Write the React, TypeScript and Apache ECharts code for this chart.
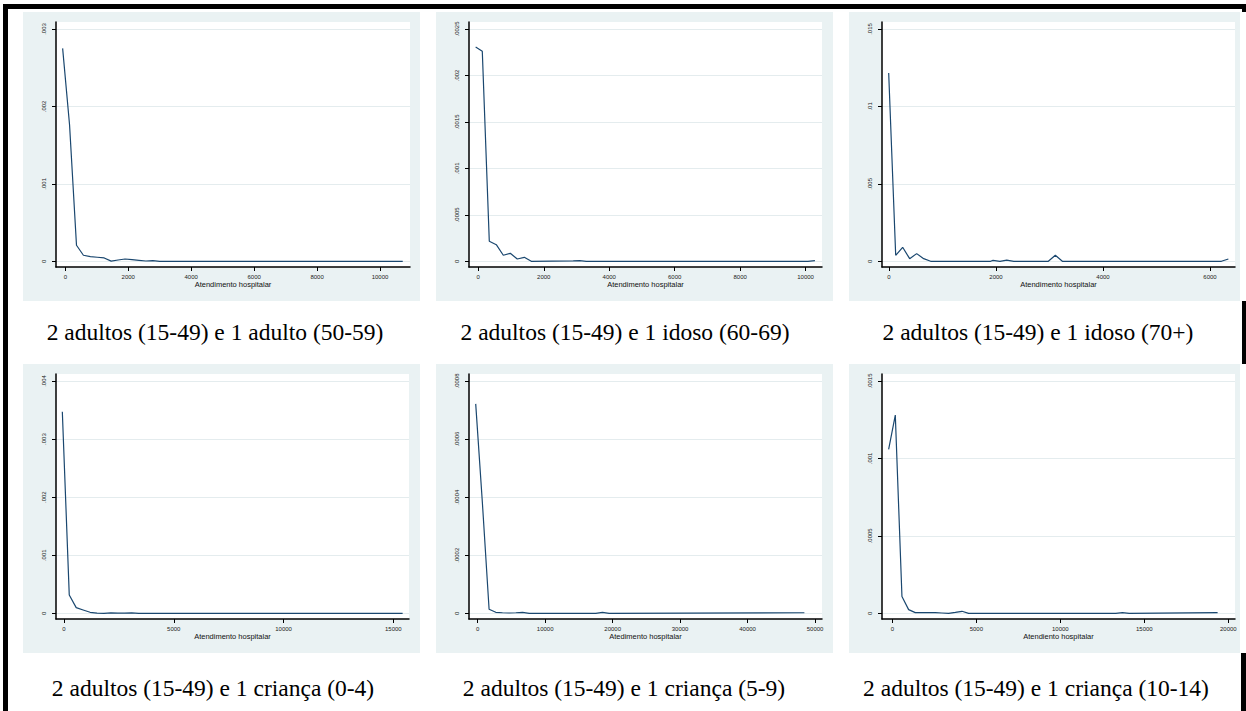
import React, { useEffect, useRef } from "react";
import * as echarts from "echarts";

// ---- Data ----
const titles = [
  "2 adultos (15-49) e 1 adulto (50-59)",
  "2 adultos (15-49) e 1 idoso (60-69)",
  "2 adultos (15-49) e 1 idoso (70+)",
  "2 adultos (15-49) e 1 criança (0-4)",
  "2 adultos (15-49) e 1 criança (5-9)",
  "2 adultos (15-49) e 1 criança (10-14)",
];
const xTitles = [
  "Atendimento hospitalar",
  "Atendimento hospitalar",
  "Atendimento hospitalar",
  "Atendimento hospitalar",
  "Atedimento hospitalar",
  "Atendiento hospitalar",
];

const p1X = [-85, 135, 355, 575, 796, 1016, 1236, 1457, 1677, 1898, 2118, 2339, 2559, 2780, 3000, 10722];
const p1Y = [0.00275, 0.00176, 0.000207, 0.000078, 0.00006, 0.000052, 0.000043, 0.000002, 0.000017, 0.00003, 0.000022, 0.000013, 0.000004, 0.000008, 0, 0];

const p2X = [-81, 122, 336, 550, 764, 978, 1191, 1405, 1619, 2900, 3100, 3300, 10070, 10285];
const p2Y = [0.002306, 0.00226, 0.000215, 0.000179, 0.000065, 0.000086, 0.000025, 0.000043, 0, 0.000004, 0.000007, 0, 0, 0.000007];

const p3X = [-6, 125, 255, 386, 517, 648, 779, 1900, 1944, 2074, 2200, 2333, 2978, 3109, 3240, 6213, 6343];
const p3Y = [0.01216, 0.000387, 0.000904, 0.000172, 0.000495, 0.000172, 0, 0, 0.00006, 0, 0.00008, 0, 0, 0.000387, 0, 0, 0.00015];

const p4X = [-76, 240, 556, 872, 1188, 1504, 1820, 2136, 2452, 2768, 3084, 3400, 15423];
const p4Y = [0.003472, 0.000316, 0.0000976, 0.0000574, 0.0000172, 0.000003, 0, 0.000008, 0.000003, 0.000002, 0.000008, 0, 0];

const p5X = [-296, 696, 1688, 2680, 3672, 4664, 5656, 6648, 7640, 17500, 18490, 19480, 48420];
const p5Y = [0.000721, 0.00038, 0.0000138, 0.0000034, 0.000002, 0.000001, 0.000002, 0.0000035, 0, 0, 0.0000035, 0, 0.000002];

const p6X = [-218, 179, 575, 972, 1369, 1766, 2163, 2560, 2957, 3354, 3751, 4148, 4545, 13300, 13700, 14100, 19364];
const p6Y = [0.001059, 0.00128, 0.000108, 0.0000237, 0.0000043, 0.000005, 0.000005, 0.000004, 0.000002, 0, 0.000006, 0.000013, 0, 0, 0.000004, 0, 0.000004];

const xTicks = [
  [0, 2000, 4000, 6000, 8000, 10000],
  [0, 2000, 4000, 6000, 8000, 10000],
  [0, 2000, 4000, 6000],
  [0, 5000, 10000, 15000],
  [0, 10000, 20000, 30000, 40000, 50000],
  [0, 5000, 10000, 15000, 20000],
];
const yTicks = [
  [0, 0.001, 0.002, 0.003],
  [0, 0.0005, 0.001, 0.0015, 0.002, 0.0025],
  [0, 0.005, 0.01, 0.015],
  [0, 0.001, 0.002, 0.003, 0.004],
  [0, 0.0002, 0.0004, 0.0006, 0.0008],
  [0, 0.0005, 0.001, 0.0015],
];
const xRanges = [
  [-296, 10953],
  [-284, 10501],
  [-131, 6467],
  [-364, 15713],
  [-1290, 51030],
  [-613, 20399],
];
const yRanges = [
  [-0.0000736, 0.0030904],
  [-0.0000613, 0.002575],
  [-0.000368, 0.015452],
  [-0.0000981, 0.0041205],
  [-0.0000196, 0.000824],
  [-0.0000368, 0.0015452],
];
const seriesX = [p1X, p2X, p3X, p4X, p5X, p6X];
const seriesY = [p1Y, p2Y, p3Y, p4Y, p5Y, p6Y];

// ---- Layout ----
const panelBoxes = [
  { x: 23, y: 12, w: 397, h: 289 },
  { x: 436, y: 12, w: 397, h: 289 },
  { x: 849, y: 12, w: 391, h: 289 },
  { x: 23, y: 364, w: 397, h: 289 },
  { x: 436, y: 364, w: 397, h: 289 },
  { x: 849, y: 364, w: 391, h: 289 },
];
const plotBoxes = [
  { left: 56, top: 22, width: 354, height: 245 },
  { left: 469, top: 22, width: 353, height: 245 },
  { left: 882, top: 22, width: 353, height: 245 },
  { left: 56, top: 374, width: 353, height: 245 },
  { left: 469, top: 374, width: 353, height: 245 },
  { left: 882, top: 374, width: 353, height: 245 },
];
const titlePos = [
  { x: 215, y: 332 },
  { x: 625, y: 332 },
  { x: 1038, y: 332 },
  { x: 213, y: 688 },
  { x: 624, y: 688 },
  { x: 1036, y: 688 },
];

const fmtY = (v: number) => {
  if (v === 0) return "0";
  return parseFloat(v.toPrecision(6)).toString().replace(/^0\./, ".");
};

export default function App() {
  const ref = useRef<HTMLDivElement>(null);
  useEffect(() => {
    document.body.style.margin = "0";
    const chart = echarts.init(ref.current!, null, { renderer: "svg" });
    const grids: any[] = [];
    const xAxes: any[] = [];
    const yAxes: any[] = [];
    const series: any[] = [];
    const graphics: any[] = [];

    panelBoxes.forEach((b) => {
      graphics.push({
        type: "rect",
        z: -10,
        shape: { x: b.x, y: b.y, width: b.w, height: b.h },
        style: { fill: "#eaf2f3" },
        silent: true,
      });
    });

    for (let i = 0; i < 6; i++) {
      const pb = plotBoxes[i];
      grids.push({
        left: pb.left,
        top: pb.top,
        width: pb.width,
        height: pb.height,
        show: true,
        backgroundColor: "#ffffff",
        borderWidth: 0,
        containLabel: false,
      });
      xAxes.push({
        type: "value",
        gridIndex: i,
        min: xRanges[i][0],
        max: xRanges[i][1],
        name: xTitles[i],
        nameLocation: "middle",
        nameGap: 13,
        nameTextStyle: { fontSize: 7.5, color: "#111", fontFamily: "Liberation Sans" },
        axisLine: { show: true, onZero: false, lineStyle: { color: "#000", width: 1.5 } },
        axisTick: { show: true, length: 4, customValues: xTicks[i], lineStyle: { color: "#000", width: 1 } },
        axisLabel: {
          customValues: xTicks[i],
          fontSize: 6,
          margin: 7,
          color: "#222",
          fontFamily: "Liberation Sans",
          formatter: (v: number) => String(v),
        },
        splitLine: { show: false },
      });
      yAxes.push({
        type: "value",
        gridIndex: i,
        min: yRanges[i][0],
        max: yRanges[i][1],
        axisLine: { show: true, onZero: false, lineStyle: { color: "#000", width: 1.5 } },
        axisTick: { show: true, length: 4, customValues: yTicks[i], lineStyle: { color: "#000", width: 1 } },
        axisLabel: {
          customValues: yTicks[i],
          rotate: 90,
          fontSize: 6,
          margin: 9,
          color: "#222",
          fontFamily: "Liberation Sans",
          formatter: (v: number) => fmtY(v),
        },
        splitLine: { show: true, lineStyle: { color: "#e4ecee", width: 1 } },
      });
      series.push({
        type: "line",
        xAxisIndex: i,
        yAxisIndex: i,
        data: seriesX[i].map((x, j) => [x, seriesY[i][j]]),
        showSymbol: false,
        symbol: "none",
        lineStyle: { color: "#1a476f", width: 1.2 },
        z: 5,
      });
      graphics.push({
        type: "text",
        x: titlePos[i].x,
        y: titlePos[i].y,
        style: {
          text: titles[i],
          fontSize: 23.5,
          fontFamily: "Liberation Serif",
          fill: "#000",
          textAlign: "center",
          textVerticalAlign: "middle",
        },
      });
    }

    // table borders
    const borders = [
      { x: 3, y: 4, w: 1243, h: 5 },
      { x: 3, y: 4, w: 5, h: 707 },
      { x: 1242, y: 4, w: 4, h: 8 },
      { x: 1242, y: 301, w: 4, h: 63 },
      { x: 1241, y: 653, w: 5, h: 58 },
    ];
    borders.forEach((b) =>
      graphics.push({
        type: "rect",
        z: 10,
        shape: { x: b.x, y: b.y, width: b.w, height: b.h },
        style: { fill: "#000" },
        silent: true,
      })
    );

    chart.setOption({
      animation: false,
      backgroundColor: "#ffffff",
      grid: grids,
      xAxis: xAxes,
      yAxis: yAxes,
      series,
      graphic: graphics,
    });
    return () => chart.dispose();
  }, []);
  return <div ref={ref} style={{ width: 1246, height: 711 }} />;
}
